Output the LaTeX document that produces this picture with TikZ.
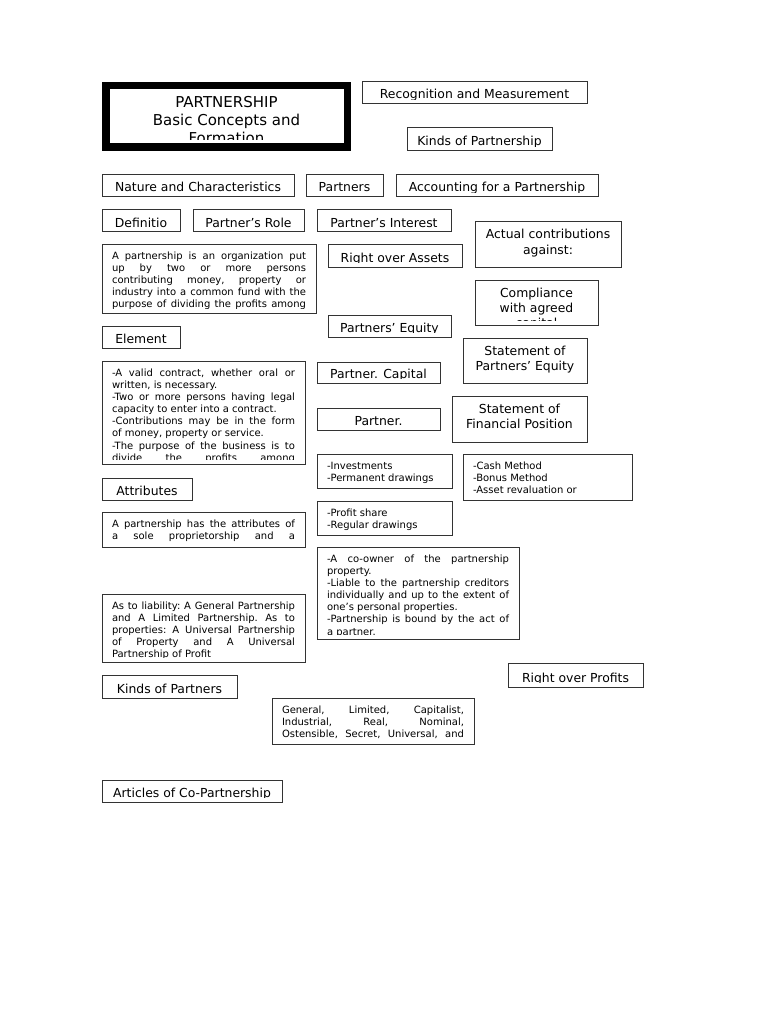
\documentclass[tikz,border=0pt]{standalone}
\usepackage{fontspec}
\setmainfont{DejaVu Sans}
\newcommand\ttlfont{\fontsize{15}{18}\selectfont}
\newcommand\lblfont{\fontsize{12.4}{15}\selectfont}
\newcommand\txtfont{\fontsize{10}{12.1}\selectfont\frenchspacing
	\hyphenpenalty=10000 \exhyphenpenalty=10000 \tolerance=10000 }
\begin{document}
\begin{tikzpicture}[
		x=1pt, y=-1pt,
		every node/.style={inner sep=0pt, outer sep=0pt},
		box/.style={draw=black!80, line width=1pt, anchor=north west},
		inside/.style={draw=none, minimum width=0pt, minimum height=0pt},
		title/.style={draw=black, line width=7.5pt, anchor=north west,
			path picture={
				\clip ([yshift=7.75pt]path picture bounding box.south west) rectangle (path picture bounding box.north east);
				\node[inside, font=\ttlfont, align=center, anchor=north] at ([yshift=-9.65pt]path picture bounding box.north) {\strut #1};}
		},
		lbl/.style={box,
			path picture={
				\clip ([yshift=4.5pt]path picture bounding box.south west) rectangle (path picture bounding box.north east);
				\node[inside, font=\lblfont, anchor=base] at ([yshift=5pt]path picture bounding box.south) {#1};}
		},
		mlbl/.style={box,
			path picture={
				\clip ([yshift=4.5pt]path picture bounding box.south west) rectangle (path picture bounding box.north east);
				\node[inside, font=\lblfont, align=center, anchor=north] at ([yshift=-6.5pt]path picture bounding box.north) {\strut #1};}
		},
		list/.style={box,
			path picture={
				\clip ([yshift=4.5pt]path picture bounding box.south west) rectangle (path picture bounding box.north east);
				\node[inside, font=\txtfont, align=left, anchor=north west] at ([shift={(10pt,-7pt)}]path picture bounding box.north west) {\strut #1};}
		},
		para/.style 2 args={box,
			path picture={
				\clip ([yshift=4.5pt]path picture bounding box.south west) rectangle (path picture bounding box.north east);
				\node[inside, font=\txtfont, text width=#1, align=justify, anchor=north west] at ([shift={(10pt,-7pt)}]path picture bounding box.north west) {\strut #2};}
		}
		]
		
		\path[fill=white] (0,0) rectangle (768,1024);
		
		\node[title={PARTNERSHIP\\Basic Concepts and\\Formation}, minimum width=241.5, minimum height=61.5] (title) at (105.75,85.75) {};
		\node[lbl={Recognition and Measurement}, minimum width=225, minimum height=22] (recog) at (362,82) {};
		\node[lbl={Kinds of Partnership}, minimum width=145, minimum height=23] (kindship) at (407,128) {};
		
		\node[lbl={Nature and Characteristics}, minimum width=192, minimum height=22] (nature) at (102,175) {};
		\node[lbl={Partners}, minimum width=77, minimum height=22] (partners) at (306,175) {};
		\node[lbl={Accounting for a Partnership}, minimum width=202, minimum height=22] (accounting) at (396,175) {};
		
		\node[lbl={Definitio}, minimum width=78, minimum height=22] (defn) at (102,210) {};
		\node[lbl={Partner’s Role}, minimum width=111, minimum height=22] (role) at (193,210) {};
		\node[lbl={Partner’s Interest}, minimum width=134, minimum height=22] (interest) at (317,210) {};
		\node[mlbl={Actual contributions\\against:}, minimum width=146, minimum height=45] (actual) at (475,222) {};
		
		\node[para={194pt}{A partnership is an organization put\linebreak up by two or more persons\linebreak contributing money, property or\linebreak industry into a common fund with the\linebreak purpose of dividing the profits among\linebreak}, minimum width=214, minimum height=69] (defntext) at (102,244) {};
		\node[lbl={Right over Assets}, minimum width=134, minimum height=23] (assets) at (328,244) {};
		\node[mlbl={Compliance\\with agreed\\capital}, minimum width=123, minimum height=45] (compliance) at (475,280) {};
		
		\node[lbl={Element}, minimum width=78, minimum height=22] (element) at (102,326) {};
		\node[lbl={Partners’ Equity}, minimum width=123, minimum height=22] (equity) at (328,315) {};
		\node[mlbl={Statement of\\Partners’ Equity}, minimum width=124, minimum height=45] (stmtequity) at (463,338) {};
		
		\node[para={183pt}{-A valid contract, whether oral or\linebreak written, is necessary.\\ -Two or more persons having legal\linebreak capacity to enter into a contract.\\ -Contributions may be in the form\linebreak of money, property or service.\\ -The purpose of the business is to\linebreak divide the profits among\linebreak}, minimum width=203, minimum height=103] (elemtext) at (102,361) {};
		\node[lbl={Partner. Capital}, minimum width=123, minimum height=21] (capital) at (317,362) {};
		\node[lbl={Partner.}, minimum width=123, minimum height=22] (partner) at (317,408) {};
		\node[mlbl={Statement of\\Financial Position}, minimum width=135, minimum height=46] (stmtfin) at (452,396) {};
		
		\node[list={-Investments\\-Permanent drawings}, minimum width=135, minimum height=34] (invest) at (317,454) {};
		\node[list={-Cash Method\\-Bonus Method\\-Asset revaluation or}, minimum width=169, minimum height=46] (cash) at (463,454) {};
		\node[lbl={Attributes}, minimum width=90, minimum height=22] (attrib) at (102,478) {};
		\node[list={-Profit share\\-Regular drawings}, minimum width=135, minimum height=34] (profit) at (317,501) {};
		\node[para={183pt}{A partnership has the attributes of\linebreak a sole proprietorship and a\linebreak}, minimum width=203, minimum height=35] (attribtext) at (102,512) {};
		
		\node[para={182pt}{-A co-owner of the partnership\linebreak property.\\ -Liable to the partnership creditors\linebreak individually and up to the extent of\linebreak one’s personal properties.\\ -Partnership is bound by the act of\linebreak a partner.}, minimum width=202, minimum height=92] (coowner) at (317,547) {};
		\node[para={183pt}{As to liability: A General Partnership\linebreak and A Limited Partnership. As to\linebreak properties: A Universal Partnership\linebreak of Property and A Universal\linebreak Partnership of Profit}, minimum width=203, minimum height=68] (liability) at (102,594) {};
		
		\node[lbl={Right over Profits}, minimum width=135, minimum height=24] (profits) at (508,663) {};
		\node[lbl={Kinds of Partners}, minimum width=135, minimum height=23] (kindspartners) at (102,675) {};
		\node[para={182pt}{General, Limited, Capitalist,\linebreak Industrial, Real, Nominal,\linebreak Ostensible, Secret, Universal, and\linebreak}, minimum width=202, minimum height=46] (kindstext) at (272,698) {};
		\node[lbl={Articles of Co-Partnership}, minimum width=180, minimum height=22] (articles) at (102,780) {};
		
		\useasboundingbox (0,0) rectangle (768,1024);
	\end{tikzpicture}
\end{document}
